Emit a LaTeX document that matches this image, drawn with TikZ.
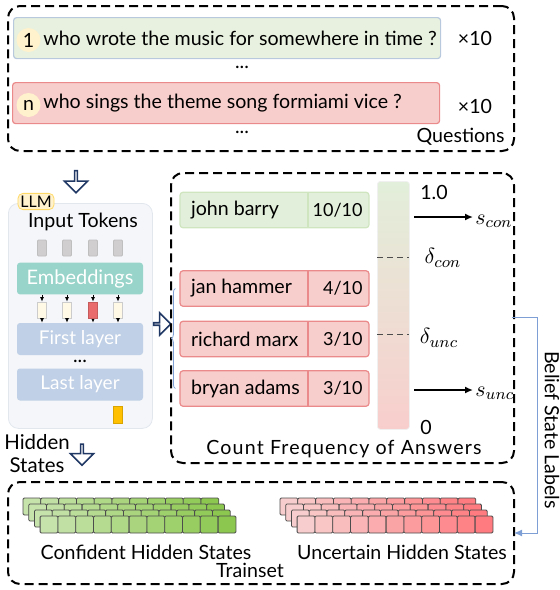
\documentclass[tikz,border=0pt]{standalone}
\usepackage{fontspec}
\setmainfont{Lato}
\usetikzlibrary{shapes.arrows,decorations.pathreplacing,arrows.meta}

\definecolor{qgreen}{HTML}{E8F1DF}
\definecolor{qgreenline}{HTML}{B8C9DD}
\definecolor{qred}{HTML}{F8CECC}
\definecolor{qredline}{HTML}{EA8A8A}
\definecolor{numfill}{HTML}{FFF2CC}
\definecolor{agreen}{HTML}{E2EFDA}
\definecolor{agreenline}{HTML}{CFE5C0}
\definecolor{llmfill}{HTML}{F4F6FA}
\definecolor{llmline}{HTML}{E2E7EE}
\definecolor{tagline}{HTML}{FFD966}
\definecolor{tokfill}{HTML}{D0CECE}
\definecolor{embfill}{HTML}{98D4C9}
\definecolor{layerfill}{HTML}{C0D0E6}
\definecolor{vecfill}{HTML}{FFF9E6}
\definecolor{vecred}{HTML}{E96B6B}
\definecolor{hsyellow}{HTML}{FFC000}
\definecolor{arrblue}{HTML}{203864}
\definecolor{belief}{HTML}{7E9FD6}
\definecolor{cellgA}{HTML}{C7E3AC}
\definecolor{cellgB}{HTML}{8CC850}
\definecolor{cellrA}{HTML}{F8CDCD}
\definecolor{cellrB}{HTML}{FF7B7F}

\tikzset{
  dashbox/.style={draw, line width=1pt, dash pattern=on 4.5pt off 2.5pt, rounded corners=6pt, inner sep=0pt},
  qbox/.style={line width=0.6pt, rounded corners=1.5pt, minimum width=213.5pt, minimum height=20.5pt, anchor=north west, inner sep=0pt},
  numdot/.style={circle, fill=numfill, minimum size=12pt, inner sep=0pt},
  abox/.style={line width=0.6pt, rounded corners=1.5pt, minimum width=94.5pt, minimum height=17.75pt, inner sep=0pt},
  frac/.style={anchor=east, inner sep=0pt, font=\fontsize{9}{10}\selectfont},
  hollow/.style={single arrow, draw=arrblue, fill=white, line width=0.8pt, inner sep=0pt,
    single arrow head extend=3pt, minimum width=11.5pt},
  tok/.style={draw=black!25, fill=tokfill, minimum width=4.5pt, minimum height=8pt, inner sep=0pt, rounded corners=0.5pt},
  vec/.style={draw=black!20, fill=vecfill, minimum width=4.5pt, minimum height=8pt, inner sep=0pt},
  layerbox/.style={fill=layerfill, rounded corners=1.5pt, minimum width=63pt, minimum height=16pt, text=white, font=\fontsize{9.5}{10}\selectfont},
  mathlab/.style={font=\fontsize{11}{12}\selectfont, inner sep=1pt},
  cell/.style={draw=black!70, line width=0.4pt, rounded corners=0.6pt},
}

\begin{document}
\begin{tikzpicture}[x=0.5pt,y=-0.5pt, font=\fontsize{9.8}{11}\selectfont]
  \useasboundingbox (0,0) rectangle (559,590);

  % spørsmål
  \node (qframe) [dashbox, anchor=north west, minimum width=253pt, minimum height=72.5pt] at (7,5) {};
  \node (q1) [qbox, fill=qgreen, draw=qgreenline] at (13,17) {};
  \node (q2) [qbox, fill=qred, draw=qredline] at (12,82) {};
  \node (n1) [numdot] at (28.5,40) {1};
  \node (n2) [numdot] at (28.5,105) {n};
  \node (q1txt) [anchor=west, inner sep=0pt] at (43,38) {who wrote the music for somewhere in time ?};
  \node (q2txt) [anchor=west, inner sep=0pt] at (43,103) {who sings the theme song formiami vice ?};
  \node (x1) at (475,38) {×10};
  \node (x2) at (475,106) {×10};
  \node (dots1) [inner sep=0pt] at (242,67) {...};
  \node (dots2) [inner sep=0pt] at (242,132) {...};
  \node (qlab) [anchor=east, inner sep=0pt] at (505,137) {Questions};

  % LLM
  \node (arrq) [hollow, shape border rotate=270, minimum height=11pt] at (76,181) {};
  \node (llm) [draw=llmline, fill=llmfill, rounded corners=5pt, anchor=north west,
    minimum width=72pt, minimum height=112.5pt] at (8,203) {};
  \node (llmtag) [draw=tagline, fill=numfill, rounded corners=2.5pt, inner sep=1.2pt,
    font=\fontsize{8}{8}\selectfont] at (36,201.5) {LLM};
  \node (intok) at (83,222) {Input Tokens};
  \node (emb) [fill=embfill, rounded corners=1.5pt, minimum width=63pt, minimum height=15.5pt,
    text=white, font=\fontsize{10}{10}\selectfont] at (80,278.5) {Embeddings};
  \node (fl) [layerbox] at (80,339) {First layer};
  \node (fldots) [inner sep=0pt] at (80,361) {...};
  \node (ll) [layerbox] at (80,384.5) {Last layer};
  \foreach \i/\x in {1/42,2/67,3/93,4/118}{
    \node (t\i) [tok] at (\x,248) {};
    \node (v\i) [vec] at (\x,310) {};
    \draw[-{Latex[length=2.2pt,width=2pt]}, line width=0.4pt] (emb.south -| v\i) -- (v\i.north);
    \draw[-{Latex[length=2.2pt,width=2pt]}, line width=0.4pt] (v\i.south) -- (v\i.south |- fl.north);
  }
  \node (v3red) [vec, fill=vecred, draw=vecred!85!black] at (93,310) {};
  \node (hs) [draw=hsyellow!85!black, fill=hsyellow, minimum width=4.5pt, minimum height=8.5pt, inner sep=0pt] at (117.5,414.5) {};
  \node (hid) [align=center, inner sep=0pt, font=\fontsize{10.2}{11.5}\selectfont] at (37,454) {Hidden\\States};
  \node (arrh) [hollow, shape border rotate=270, minimum height=10.5pt] at (82,454) {};
  \node (arrr) [hollow, minimum height=8.5pt, minimum width=11pt] at (161.5,324) {};

  % tell opp svar
  \node (cframe) [dashbox, anchor=north west, minimum width=171.5pt, minimum height=145pt] at (170,172) {};
  \node (clab) [inner sep=0pt, font=\fontsize{9.8}{11}\selectfont\addfontfeature{LetterSpace=6}] at (344,449) {Count Frequency of Answers};
  \node (a1) [abox, fill=agreen, draw=agreenline] at (274.5,210) {};
  \node (a2) [abox, fill=qred, draw=qredline] at (274.5,288.5) {};
  \node (a3) [abox, fill=qred, draw=qredline] at (274.5,339) {};
  \node (a4) [abox, fill=qred, draw=qredline] at (274.5,388.5) {};
  \foreach \a/\y/\col in {a1/210/agreenline, a2/288.5/qredline, a3/339/qredline, a4/388.5/qredline}{
    \draw[\col, line width=0.6pt] (308,\y-17.75) -- (308,\y+17.75);
  }
  \node (a1n) [anchor=west] at (184,210) {john barry};
  \node (a1f) [frac] at (363,210) {10/10};
  \node (a2n) [anchor=west] at (184,288.5) {jan hammer};
  \node (a2f) [frac] at (363,288.5) {4/10};
  \node (a3n) [anchor=west] at (184,339) {richard marx};
  \node (a3f) [frac] at (363,339) {3/10};
  \node (a4n) [anchor=west] at (184,388.5) {bryan adams};
  \node (a4f) [frac] at (363,388.5) {3/10};
  \draw[belief, line width=0.4pt, decorate, decoration={brace, amplitude=2pt}]
    ([xshift=-2pt]a4.west) -- ([xshift=-2pt]a2.west);

  % skala
  \node (bar) [anchor=north west, minimum width=16pt, minimum height=124pt, inner sep=0pt,
    top color=agreen, bottom color=qred, draw=black!6, rounded corners=1.5pt] at (377,181) {};
  \draw[densely dashed, line width=0.35pt, black!70] (377,257) -- (409,257);
  \draw[densely dashed, line width=0.35pt, black!70] (377,334) -- (409,334);
  \node (one) at (434,192) {1.0};
  \node (zero) at (426,427) {0};
  \node (dcon) [mathlab] at (443,258) {$\delta_{con}$};
  \node (dunc) [mathlab] at (439,338) {$\delta_{unc}$};
  \node (scon) [mathlab, anchor=west] at (473,221) {$s_{con}$};
  \node (sunc) [mathlab, anchor=west] at (473,393) {$s_{unc}$};
  \coordinate (sc0) at (414,217);
  \coordinate (su0) at (414,390);
  \draw[-{Latex[length=4pt,width=3.5pt]}, line width=0.9pt] (sc0) -- (sc0 -| scon.west);
  \draw[-{Latex[length=4pt,width=3.5pt]}, line width=0.9pt] (su0) -- (su0 -| sunc.west);

  % treningssett
  \node (tframe) [dashbox, anchor=north west, minimum width=253pt, minimum height=51pt] at (7,481) {};
  \node (tlab) [inner sep=0pt] at (250,570) {Trainset};
  \foreach \x/\ca/\cb in {23/cellgA/cellgB, 280/cellrA/cellrB}{
    \foreach \l in {0,...,3}{
      \foreach \i in {0,...,10}{
        \pgfmathsetmacro\p{100-\i*10}
        \filldraw[cell, fill=\ca!\p!\cb] (\x+\l*5.7+\i*17.8,498+\l*6) rectangle ++(17.8,17);
      }
    }
  }
  \node (conflab) [inner sep=0pt] at (146,552) {Confident Hidden States};
  \node (unclab) [inner sep=0pt] at (402,552) {Uncertain Hidden States};

  % etiketter
  \coordinate (bstart) at (512,317);
  \coordinate (bend) at (514,533);
  \draw[belief, line width=0.5pt, -{Latex[length=4pt,width=3.5pt]}] (bstart) -- ++(25,0) |- (bend);
  \node (blab) [rotate=-90, inner sep=0pt] at (552,430) {Belief State Labels};
\end{tikzpicture}
\end{document}
